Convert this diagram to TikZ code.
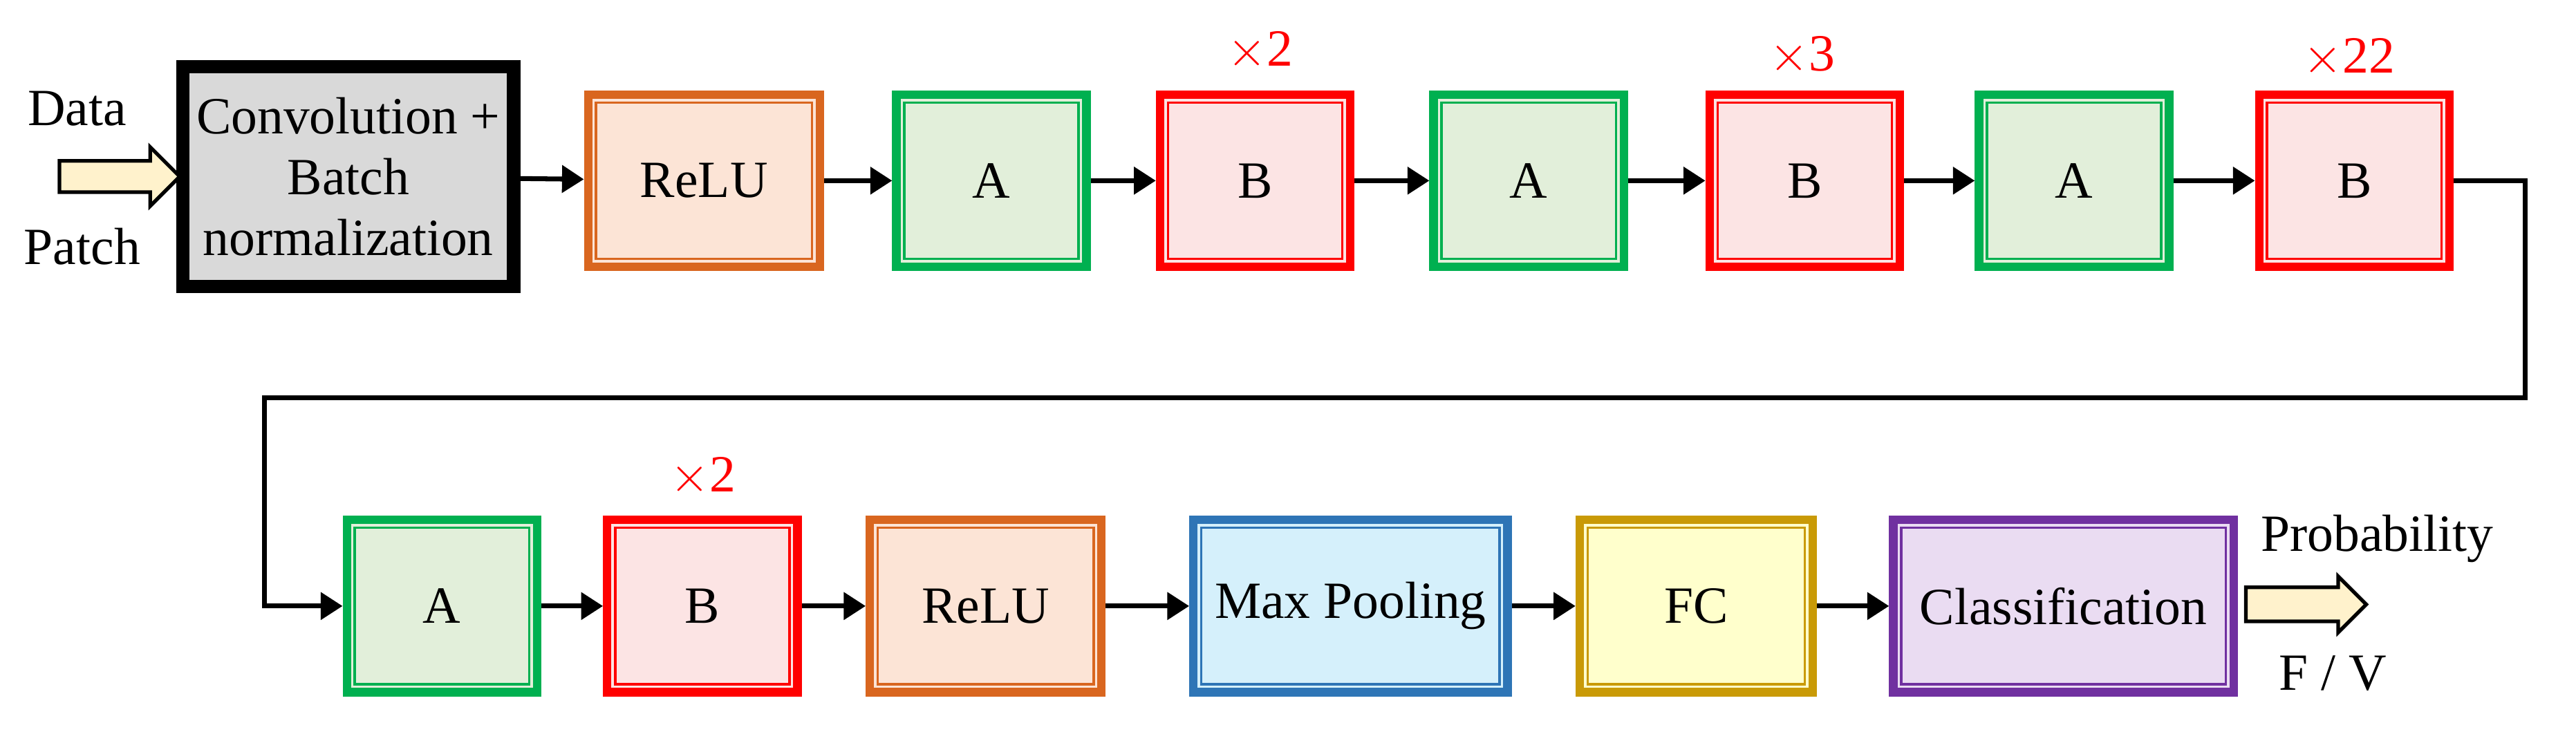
\documentclass[tikz,border=0pt]{standalone}
\usepackage{fontspec}
\setmainfont{Liberation Serif}
\usetikzlibrary{arrows.meta,shapes.arrows}
\definecolor{convfill}{HTML}{D9D9D9}
\definecolor{reluc}{HTML}{D9661F}
\definecolor{relufill}{HTML}{FCE4D6}
\definecolor{ac}{HTML}{00B050}
\definecolor{afill}{HTML}{E2EFDA}
\definecolor{bc}{HTML}{FF0000}
\definecolor{bfill}{HTML}{FCE4E4}
\definecolor{mpc}{HTML}{2E75B6}
\definecolor{mpfill}{HTML}{D5F0FB}
\definecolor{fcc}{HTML}{C99A06}
\definecolor{fcfill}{HTML}{FFFFCC}
\definecolor{clc}{HTML}{7030A0}
\definecolor{clfill}{HTML}{EADCF2}
\definecolor{arrfill}{HTML}{FFF2CC}
\tikzset{
  blk/.style 2 args={draw=#1,fill=#2,line width=3.5pt,minimum width=2.75cm,
    minimum height=2.49cm,align=center,inner sep=1pt,font=\fontsize{21.5}{25}\selectfont},
  wide/.style={minimum width=#1},
  conn/.style={line width=2pt,-{Triangle[length=9pt,width=11pt]}},
  rep/.style={text=bc,font=\fontsize{21.5}{25}\selectfont},
  lbl/.style={font=\fontsize{21.5}{25}\selectfont},
  fat/.style={single arrow,draw=black,fill=arrfill,line width=1.5pt,
    minimum width=0.82cm,minimum height=1.74cm,single arrow head extend=0.2cm,inner sep=0.2cm}
}
\begin{document}
\begin{tikzpicture}[x=0.02376cm,y=-0.02376cm]
\useasboundingbox (0,0) rectangle (1568,452);
% first row
\node[blk={black}{convfill},line width=5pt,minimum width=4.8cm,minimum height=3.2cm] (conv) at (212,107.5) {Convolution +\\Batch\\normalization};
\node[blk={reluc}{relufill},wide=3.35cm] (relu1) at (428.5,110) {ReLU};
\node[blk={ac}{afill}] (a1) at (603.5,110) {A};
\node[blk={bc}{bfill}] (b1) at (764,110) {B};
\node[blk={ac}{afill}] (a2) at (930.5,110) {A};
\node[blk={bc}{bfill}] (b2) at (1098.5,110) {B};
\node[blk={ac}{afill}] (a3) at (1262.5,110) {A};
\node[blk={bc}{bfill}] (b3) at (1433,110) {B};
\node[rep] (r1) at (767,31) {$\times$2};
\node[rep] (r2) at (1097,34) {$\times$3};
\node[rep] (r3) at (1430,35) {$\times$22};
% second row
\node[blk={ac}{afill}] (a4) at (269,369) {A};
\node[blk={bc}{bfill}] (b4) at (427.5,369) {B};
\node[blk={reluc}{relufill},wide=3.35cm] (relu2) at (600,369) {ReLU};
\node[blk={mpc}{mpfill},wide=4.54cm] (mp) at (822,369) {Max Pooling};
\node[blk={fcc}{fcfill},wide=3.37cm] (fc) at (1032.5,369) {FC};
\node[blk={clc}{clfill},wide=4.92cm] (cls) at (1256,369) {Classification};
\node[rep] (r4) at (428,290) {$\times$2};
% inner frames
\foreach \n/\c in {conv/black,relu1/reluc,a1/ac,b1/bc,a2/ac,b2/bc,a3/ac,b3/bc,a4/ac,b4/bc,relu2/reluc,mp/mpc,fc/fcc,cls/clc}
  \draw[\c,line width=1pt] ([xshift=5pt,yshift=-5pt]\n.north west) rectangle ([xshift=-5pt,yshift=5pt]\n.south east);
% input and output
\node[fat] (inp) at (68,107.5) {};
\node[lbl] (data) at (47,66) {Data};
\node[lbl] (patch) at (50,150) {Patch};
\node[fat,minimum width=0.78cm,single arrow head extend=0.16cm,inner sep=0.22cm] (outp) at (1398.5,368) {};
\node[lbl] (prob) at (1447,328) {Probability};
\node[lbl] (fv) at (1420,410) {F / V};
% connectors
\draw[conn] (conv) -- (relu1);
\draw[conn] (relu1) -- (a1);
\draw[conn] (a1) -- (b1);
\draw[conn] (b1) -- (a2);
\draw[conn] (a2) -- (b2);
\draw[conn] (b2) -- (a3);
\draw[conn] (a3) -- (b3);
\coordinate (c1) at (1537,110);
\coordinate (c2) at (1537,242);
\coordinate (c3) at (161,242);
\coordinate (c4) at (161,369);
\draw[conn] (b3.east) -- (c1) -- (c2) -- (c3) -- (c4) -- (a4.west);
\draw[conn] (a4) -- (b4);
\draw[conn] (b4) -- (relu2);
\draw[conn] (relu2) -- (mp);
\draw[conn] (mp) -- (fc);
\draw[conn] (fc) -- (cls);
\end{tikzpicture}
\end{document}
